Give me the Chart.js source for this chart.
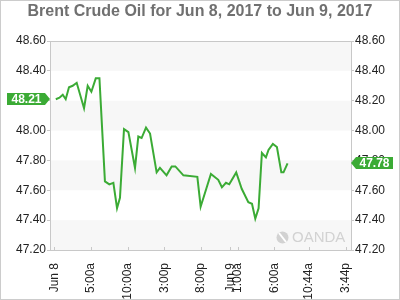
<!DOCTYPE html>
<html>
<head>
<meta charset="utf-8">
<script src="https://cdn.jsdelivr.net/npm/chart.js@4"></script>
<style>
  body { margin: 0; background: #fff; }
  #wrap { width: 400px; height: 300px; }
</style>
</head>
<body>
<div id="wrap"><canvas id="oilChart" width="400" height="300"></canvas></div>
<script>
// horas desde Jun 8 00:00
const hours = [0.2, 0.7, 1.15, 1.55, 2.0, 2.5, 3.05, 4.05, 4.55, 5.05, 5.65, 6.15,
  6.9, 7.5, 8.05, 8.55, 8.95, 9.5, 10.1, 11.0, 11.45, 11.9, 12.5, 13.05,
  13.95, 14.4, 15.3, 16.0, 16.5, 17.6, 19.5, 19.95, 21.35, 22.35, 22.85, 23.4,
  23.85, 24.8, 25.55, 26.45, 26.95, 27.4, 27.85, 28.3, 28.85, 29.2, 29.8, 30.35,
  30.95, 31.25, 31.8];
const prices = [48.21, 48.22, 48.24, 48.21, 48.29, 48.30, 48.32, 48.15, 48.30, 48.26, 48.35, 48.35,
  47.66, 47.64, 47.65, 47.48, 47.55, 48.01, 47.99, 47.75, 47.96, 47.95, 48.02, 47.98,
  47.72, 47.75, 47.70, 47.76, 47.76, 47.70, 47.69, 47.49, 47.71, 47.67, 47.62, 47.65,
  47.64, 47.72, 47.61, 47.52, 47.51, 47.41, 47.48, 47.85, 47.82, 47.87, 47.91, 47.89,
  47.72, 47.72, 47.78];

// marcas do eixo x
const xTickHours = [0, 5, 10, 15, 20, 24, 25, 30, 34.73, 39.73];
const xTickLabels = ['Jun 8', '5:00a', '10:00a', '3:00p', '8:00p', 'Jun 9', '1:00a', '6:00a', '10:44a', '3:44p'];

// faixas cinzas
const bandRanges = [[48.4, 48.6], [48.0, 48.2], [47.6, 47.8], [47.2, 47.4]];

const green = '#3bab35';
const fontFamily = '"Liberation Sans", Arial, sans-serif';

const decorPlugin = {
    id: 'decor',
    beforeDatasetsDraw(chart) {
        const ctx = chart.ctx;
        const a = chart.chartArea;
        const y = chart.scales.y;
        ctx.save();
        ctx.fillStyle = '#f7f7f7';
        bandRanges.forEach(r => {
            const top = y.getPixelForValue(r[1]);
            const bottom = y.getPixelForValue(r[0]);
            ctx.fillRect(a.left, top, a.right - a.left, bottom - top);
        });
        // marca d'agua
        ctx.fillStyle = '#d2d2d2';
        ctx.beginPath();
        ctx.arc(282.5, 237.5, 6, 0, Math.PI * 2);
        ctx.fill();
        ctx.strokeStyle = '#fff';
        ctx.lineWidth = 2;
        ctx.beginPath();
        ctx.moveTo(279, 233);
        ctx.lineTo(286, 242);
        ctx.stroke();
        ctx.fillStyle = '#d2d2d2';
        ctx.font = '15px ' + fontFamily;
        ctx.textBaseline = 'middle';
        ctx.textAlign = 'left';
        ctx.fillText('OANDA', 292, 238);
        ctx.restore();
    },
    afterDraw(chart) {
        const ctx = chart.ctx;
        const a = chart.chartArea;
        const x = chart.scales.x;
        const y = chart.scales.y;
        ctx.save();
        // moldura
        ctx.strokeStyle = '#c8c8c8';
        ctx.lineWidth = 1;
        ctx.strokeRect(Math.round(a.left) + 0.5, Math.round(a.top) + 0.5, Math.round(a.right - a.left), Math.round(a.bottom - a.top));
        // tracinhos do eixo x
        ctx.beginPath();
        xTickHours.forEach(h => {
            const px = Math.round(x.getPixelForValue(h)) + 0.5;
            ctx.moveTo(px, a.bottom - 3);
            ctx.lineTo(px, a.bottom);
        });
        ctx.stroke();

        // etiquetas de preço
        ctx.font = 'bold 12px ' + fontFamily;
        ctx.textBaseline = 'middle';
        ctx.textAlign = 'center';
        const first = prices[0];
        const last = prices[prices.length - 1];
        let py = Math.round(y.getPixelForValue(first));
        ctx.fillStyle = green;
        ctx.beginPath();
        ctx.moveTo(7, py - 6);
        ctx.lineTo(45, py - 6);
        ctx.lineTo(50, py);
        ctx.lineTo(45, py + 6);
        ctx.lineTo(7, py + 6);
        ctx.closePath();
        ctx.fill();
        ctx.fillStyle = '#fff';
        ctx.fillText(first.toFixed(2), 26.5, py + 0.5);

        py = Math.round(y.getPixelForValue(last));
        ctx.fillStyle = green;
        ctx.beginPath();
        ctx.moveTo(351, py);
        ctx.lineTo(356, py - 6);
        ctx.lineTo(393, py - 6);
        ctx.lineTo(393, py + 6);
        ctx.lineTo(356, py + 6);
        ctx.closePath();
        ctx.fill();
        ctx.fillStyle = '#fff';
        ctx.fillText(last.toFixed(2), 374.5, py + 0.5);

        // borda externa
        ctx.strokeStyle = '#cccccc';
        ctx.strokeRect(0.5, 0.5, 399, 299);
        ctx.restore();
    }
};

const yAxis = (position, width) => ({
    position: position,
    min: 47.2,
    max: 48.6,
    afterFit: scale => { scale.width = width; },
    border: { display: false },
    grid: { drawOnChartArea: false, tickLength: 3, color: '#c8c8c8' },
    ticks: {
        stepSize: 0.2,
        padding: 1,
        color: '#222',
        font: { family: fontFamily, size: 12 },
        callback: v => Number(v).toFixed(2)
    }
});

const ctx = document.getElementById('oilChart').getContext('2d');
const myChart = new Chart(ctx, {
    type: 'line',
    data: {
        datasets: [{
            label: 'Brent Crude Oil',
            data: hours.map((h, i) => ({ x: h, y: prices[i] })),
            borderColor: green,
            borderWidth: 2,
            pointRadius: 0,
            tension: 0,
            yAxisID: 'y'
        }]
    },
    plugins: [decorPlugin],
    options: {
        responsive: false,
        animation: false,
        layout: { padding: 0 },
        plugins: {
            legend: { display: false },
            tooltip: { enabled: false },
            title: {
                display: true,
                text: 'Brent Crude Oil for Jun 8, 2017 to Jun 9, 2017',
                color: '#707070',
                font: { family: fontFamily, size: 16, weight: 'bold', lineHeight: 1.2 },
                padding: { top: 2, bottom: 19.8 }
            }
        },
        scales: {
            x: {
                type: 'linear',
                min: -0.59,
                max: 40.45,
                afterFit: scale => { scale.height = 50; },
                afterBuildTicks: scale => {
                    scale.ticks = xTickHours.map(h => ({ value: h }));
                },
                border: { display: false },
                grid: { display: false },
                ticks: {
                    autoSkip: false,
                    minRotation: 90,
                    maxRotation: 90,
                    padding: 5,
                    color: '#222',
                    font: { family: fontFamily, size: 12 },
                    callback: (v, i) => xTickLabels[i]
                }
            },
            y: yAxis('left', 50),
            y2: yAxis('right', 49)
        }
    }
});
</script>
</body>
</html>
